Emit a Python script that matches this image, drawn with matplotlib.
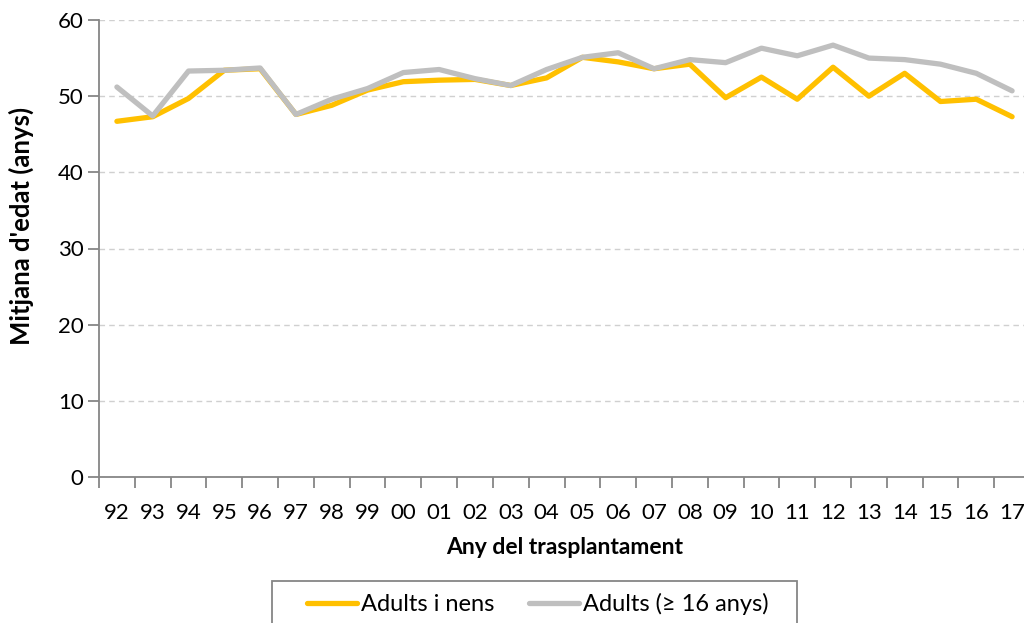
import matplotlib.pyplot as plt
from matplotlib.patches import Rectangle
from matplotlib.ticker import FixedLocator
import numpy as np

# data
anys = ['92', '93', '94', '95', '96', '97', '98', '99', '00', '01', '02', '03', '04',
        '05', '06', '07', '08', '09', '10', '11', '12', '13', '14', '15', '16', '17']
adults_nens = [46.7, 47.3, 49.7, 53.4, 53.6, 47.6, 48.8, 50.8, 51.9, 52.1, 52.2, 51.4, 52.4,
               55.1, 54.5, 53.6, 54.2, 49.8, 52.5, 49.6, 53.8, 50.0, 53.0, 49.3, 49.6, 47.3]
adults = [51.2, 47.4, 53.3, 53.4, 53.7, 47.6, 49.6, 51.0, 53.1, 53.5, 52.3, 51.4, 53.5,
          55.1, 55.7, 53.6, 54.8, 54.4, 56.3, 55.3, 56.7, 55.0, 54.8, 54.2, 53.0, 50.7]

plt.rcParams['font.family'] = ['Lato', 'DejaVu Sans']

W, H = 1024, 623
fig = plt.figure(figsize=(W / 100, H / 100), dpi=100)
# axes runs a bit past the right edge, like the original
ax = fig.add_axes([99 / W, 1 - 477 / H, 931 / W, 457 / H])

x = np.arange(len(anys))
ax.plot(x, adults_nens, color='#FFC000', lw=3.8, solid_capstyle='round',
        label='Adults i nens', zorder=3)
ax.plot(x, adults, color='#BFBFBF', lw=3.8, solid_capstyle='round',
        label='Adults (≥ 16 anys)', zorder=4)

ax.set_xlim(-0.5, len(anys) - 0.5)
ax.set_ylim(0, 60)
ax.set_yticks(range(0, 61, 10))
ax.yaxis.grid(True, color='#D0D0D0', ls=(0, (4, 3)), lw=1)
ax.set_axisbelow(True)

# category ticks sit between the labels
ax.xaxis.set_major_locator(FixedLocator(np.arange(-0.5, len(anys), 1.0)))
ax.xaxis.set_major_formatter(plt.NullFormatter())
ax.xaxis.set_minor_locator(FixedLocator(x))
ax.set_xticklabels(anys, minor=True)
ax.tick_params(axis='x', which='major', length=8, color='#868686', width=1.3)
ax.tick_params(axis='x', which='minor', length=0, pad=19, labelsize=16)
ax.tick_params(axis='y', length=8, color='#868686', width=1.3, labelsize=16, pad=3)

for s in ['top', 'right']:
    ax.spines[s].set_visible(False)
for s in ['left', 'bottom']:
    ax.spines[s].set_color('#868686')
    ax.spines[s].set_linewidth(1.3)

ax.set_xlabel('Any del trasplantament', fontsize=16.5, fontweight='bold', labelpad=10)
ax.set_ylabel("Mitjana d'edat (anys)", fontsize=18.5, fontweight='bold')
ax.yaxis.set_label_coords(-0.07, 0.55)

# legend box is cut off by the bottom edge, so draw the frame by hand
fig.patches.append(Rectangle((272 / W, 1 - 640 / H), 525 / W, 59 / H,
                             transform=fig.transFigure, fill=False,
                             edgecolor='#868686', lw=1.3))
fig.legend(loc='center left', bbox_to_anchor=(307 / W, 1 - 604 / H),
           ncol=2, fontsize=17, frameon=False,
           handlelength=2.1, handletextpad=0.2, columnspacing=1.45,
           borderpad=0, borderaxespad=0)

fig.savefig('out.png', dpi=100)
